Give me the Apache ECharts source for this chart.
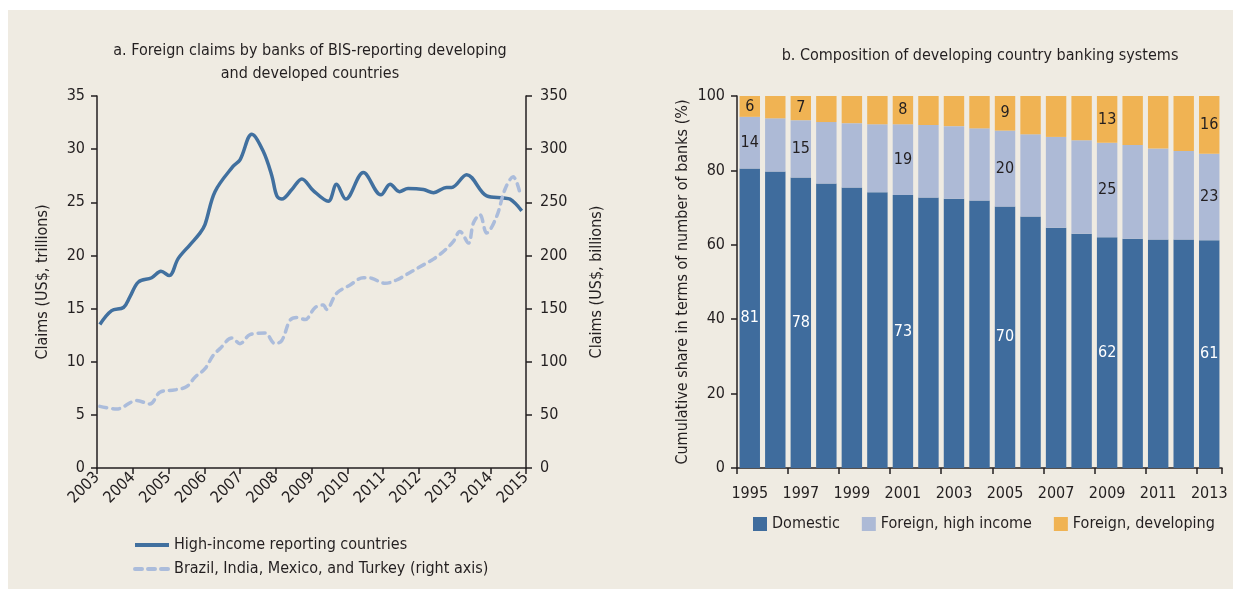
<!DOCTYPE html>
<html lang="en">

<head>
    <meta charset="UTF-8">
    <title>Foreign claims and banking systems</title>
    <script src="https://cdn.jsdelivr.net/npm/echarts@6/dist/echarts.min.js"></script>
    <style>
        html, body { margin: 0; padding: 0; background: #fff; }
        #main { width: 1241px; height: 599px; }
    </style>
</head>

<body>
    <div id="main"></div>
    <script>
    // panel a: quarterly-ish points (x in years)
    var highDates = [2003.08, 2003.41, 2003.74, 2003.92, 2004.16, 2004.53, 2004.79, 2005.02, 2005.27, 2005.6, 2005.88,
        2006.02, 2006.3, 2006.81, 2007.0, 2007.33, 2007.65, 2007.89, 2008.03, 2008.17, 2008.45, 2008.73, 2009.05,
        2009.47, 2009.7, 2009.96, 2010.45, 2010.94, 2011.2, 2011.46, 2011.7, 2012.13, 2012.41, 2012.78, 2012.92,
        2013.34, 2013.9, 2014.37, 2014.55, 2014.88];
    var highValues = [13.5, 14.8, 15.1, 16.1, 17.5, 17.9, 18.5, 18.1, 19.7, 21.0, 22.1,
        22.9, 26.0, 28.4, 29.0, 31.4, 29.8, 27.5, 25.6, 25.3, 26.2, 27.2, 26.1,
        25.1, 26.7, 25.3, 27.8, 25.7, 26.7, 26.0, 26.3, 26.2, 25.9, 26.4, 26.4,
        27.6, 25.6, 25.4, 25.3, 24.2];

    var devDates = [2003.08, 2003.55, 2004.11, 2004.48, 2004.76, 2005.18, 2005.51, 2005.74, 2006.02, 2006.25, 2006.44,
        2006.77, 2007.0, 2007.28, 2007.7, 2007.98, 2008.17, 2008.4, 2008.59, 2008.82, 2009.1, 2009.33, 2009.42,
        2009.7, 2010.08, 2010.45, 2010.68, 2011.06, 2011.38, 2011.8, 2012.13, 2012.41, 2012.69, 2012.97, 2013.15,
        2013.39, 2013.53, 2013.71, 2013.9, 2014.18, 2014.41, 2014.64, 2014.83];
    var devValues = [58, 55.5, 63.4, 60.3, 71.2, 73.5, 76.6, 85.4, 93.4, 106, 112.3,
        122.3, 117, 125.5, 127, 117, 120, 139, 141.6, 139.7, 151, 153.3, 149.2,
        164.3, 172.2, 179.1, 178.5, 173.8, 176.9, 184.8, 191.1, 196.5, 203.7, 213.2, 222.6,
        211.6, 230.6, 238.4, 221.1, 236.8, 262, 274, 259];

    // panel b
    var years = ['1995', '1996', '1997', '1998', '1999', '2000', '2001', '2002', '2003', '2004',
        '2005', '2006', '2007', '2008', '2009', '2010', '2011', '2012', '2013'];
    var domestic = [80.5, 79.7, 78.1, 76.5, 75.4, 74.1, 73.4, 72.7, 72.4, 71.9,
        70.3, 67.6, 64.6, 63.0, 62.0, 61.6, 61.4, 61.4, 61.2];
    var foreignHigh = [13.9, 14.3, 15.4, 16.5, 17.3, 18.3, 19.0, 19.5, 19.5, 19.4,
        20.4, 22.1, 24.4, 25.1, 25.4, 25.2, 24.5, 23.8, 23.3];
    var foreignDev = [5.6, 6.0, 6.5, 7.0, 7.3, 7.6, 7.6, 7.8, 8.1, 8.7,
        9.3, 10.3, 11.0, 11.9, 12.6, 13.2, 14.1, 14.8, 15.5];
    var labelYears = ['1995', '1997', '2001', '2005', '2009', '2013'];

    var FONT = '"Liberation Sans Narrow", "DejaVu Sans Condensed", "Noto Sans", sans-serif';
    var INK = '#231f20';

    function pairs(xs, ys) {
        return xs.map(function (x, i) { return [x, ys[i]]; });
    }

    function barLabel(color) {
        return {
            show: true,
            position: 'inside',
            color: color,
            fontFamily: FONT,
            fontSize: 16,
            formatter: function (p) {
                return labelYears.indexOf(p.name) >= 0 ? Math.round(p.value) : '';
            }
        };
    }

    var axisLine = { show: true, lineStyle: { color: INK, width: 1.5 } };
    var axisTick = { show: true, length: 6, lineStyle: { color: INK, width: 1.5 } };
    var axisText = { color: INK, fontFamily: FONT, fontSize: 16 };

    var myChart = echarts.init(document.getElementById('main'));

    var option = {
        backgroundColor: '#ffffff',
        animation: false,
        textStyle: { fontFamily: FONT },
        graphic: [{
            type: 'rect',
            z: -10,
            silent: true,
            shape: { x: 8, y: 10, width: 1225, height: 579 },
            style: { fill: '#efebe2' }
        }],
        title: [{
            text: 'a. Foreign claims by banks of BIS-reporting developing\nand developed countries',
            left: 305,
            top: 34,
            textAlign: 'center',
            textStyle: { color: INK, fontFamily: FONT, fontSize: 16, fontWeight: 'normal', lineHeight: 23 }
        }, {
            text: 'b. Composition of developing country banking systems',
            left: 975,
            top: 43,
            textAlign: 'center',
            textStyle: { color: INK, fontFamily: FONT, fontSize: 16, fontWeight: 'normal' }
        }],
        legend: [{
            data: ['High-income reporting countries', 'Brazil, India, Mexico, and Turkey (right axis)'],
            orient: 'vertical',
            left: 128,
            top: 532,
            itemWidth: 34,
            itemHeight: 12,
            itemGap: 8,
            itemStyle: { opacity: 0 },
            lineStyle: { width: 4 },
            textStyle: { color: INK, fontFamily: FONT, fontSize: 16 }
        }, {
            data: ['Domestic', 'Foreign, high income', 'Foreign, developing'],
            orient: 'horizontal',
            left: 748,
            top: 511,
            icon: 'rect',
            itemWidth: 14,
            itemHeight: 14,
            itemGap: 22,
            textStyle: { color: INK, fontFamily: FONT, fontSize: 16 }
        }],
        grid: [
            { left: 97, right: 715, top: 96, bottom: 131 },
            { left: 737, right: 19, top: 96, bottom: 131 }
        ],
        xAxis: [{
            type: 'value',
            gridIndex: 0,
            min: 2003,
            max: 2015,
            interval: 1,
            axisLine: axisLine,
            axisTick: axisTick,
            splitLine: { show: false },
            axisLabel: Object.assign({ rotate: 45, margin: 7, formatter: function (v) { return String(v); } }, axisText)
        }, {
            type: 'category',
            gridIndex: 1,
            data: years,
            axisLine: axisLine,
            axisTick: axisTick,
            axisLabel: Object.assign({ interval: 1, margin: 18 }, axisText)
        }],
        yAxis: [{
            type: 'value',
            gridIndex: 0,
            min: 0,
            max: 35,
            interval: 5,
            name: 'Claims (US$, trillions)',
            nameLocation: 'middle',
            nameGap: 46,
            nameTextStyle: axisText,
            axisLine: axisLine,
            axisTick: axisTick,
            splitLine: { show: false },
            axisLabel: Object.assign({ margin: 12 }, axisText)
        }, {
            type: 'value',
            gridIndex: 0,
            position: 'right',
            min: 0,
            max: 350,
            interval: 50,
            name: 'Claims (US$, billions)',
            nameLocation: 'middle',
            nameGap: 63,
            nameTextStyle: axisText,
            axisLine: axisLine,
            axisTick: axisTick,
            splitLine: { show: false },
            axisLabel: Object.assign({ margin: 14 }, axisText)
        }, {
            type: 'value',
            gridIndex: 1,
            min: 0,
            max: 100,
            interval: 20,
            name: 'Cumulative share in terms of number of banks (%)',
            nameLocation: 'middle',
            nameGap: 46,
            nameTextStyle: axisText,
            axisLine: axisLine,
            axisTick: axisTick,
            splitLine: { show: false },
            axisLabel: Object.assign({ margin: 12 }, axisText)
        }],
        series: [{
            name: 'High-income reporting countries',
            type: 'line',
            xAxisIndex: 0,
            yAxisIndex: 0,
            smooth: 0.35,
            symbol: 'none',
            color: '#41709f',
            lineStyle: { width: 3.5, color: '#41709f' },
            data: pairs(highDates, highValues)
        }, {
            name: 'Brazil, India, Mexico, and Turkey (right axis)',
            type: 'line',
            xAxisIndex: 0,
            yAxisIndex: 1,
            smooth: 0.35,
            symbol: 'none',
            color: '#abbcdb',
            lineStyle: { width: 3.5, color: '#abbcdb', type: [7, 6], cap: 'round' },
            data: pairs(devDates, devValues)
        }, {
            name: 'Domestic',
            type: 'bar',
            stack: 'banks',
            xAxisIndex: 1,
            yAxisIndex: 2,
            barCategoryGap: '20%',
            color: '#3f6c9d',
            label: barLabel('#ffffff'),
            data: domestic
        }, {
            name: 'Foreign, high income',
            type: 'bar',
            stack: 'banks',
            xAxisIndex: 1,
            yAxisIndex: 2,
            color: '#adbad6',
            label: barLabel(INK),
            data: foreignHigh
        }, {
            name: 'Foreign, developing',
            type: 'bar',
            stack: 'banks',
            xAxisIndex: 1,
            yAxisIndex: 2,
            color: '#f0b353',
            label: barLabel(INK),
            data: foreignDev
        }]
    };

    myChart.setOption(option);
    </script>
</body>

</html>
